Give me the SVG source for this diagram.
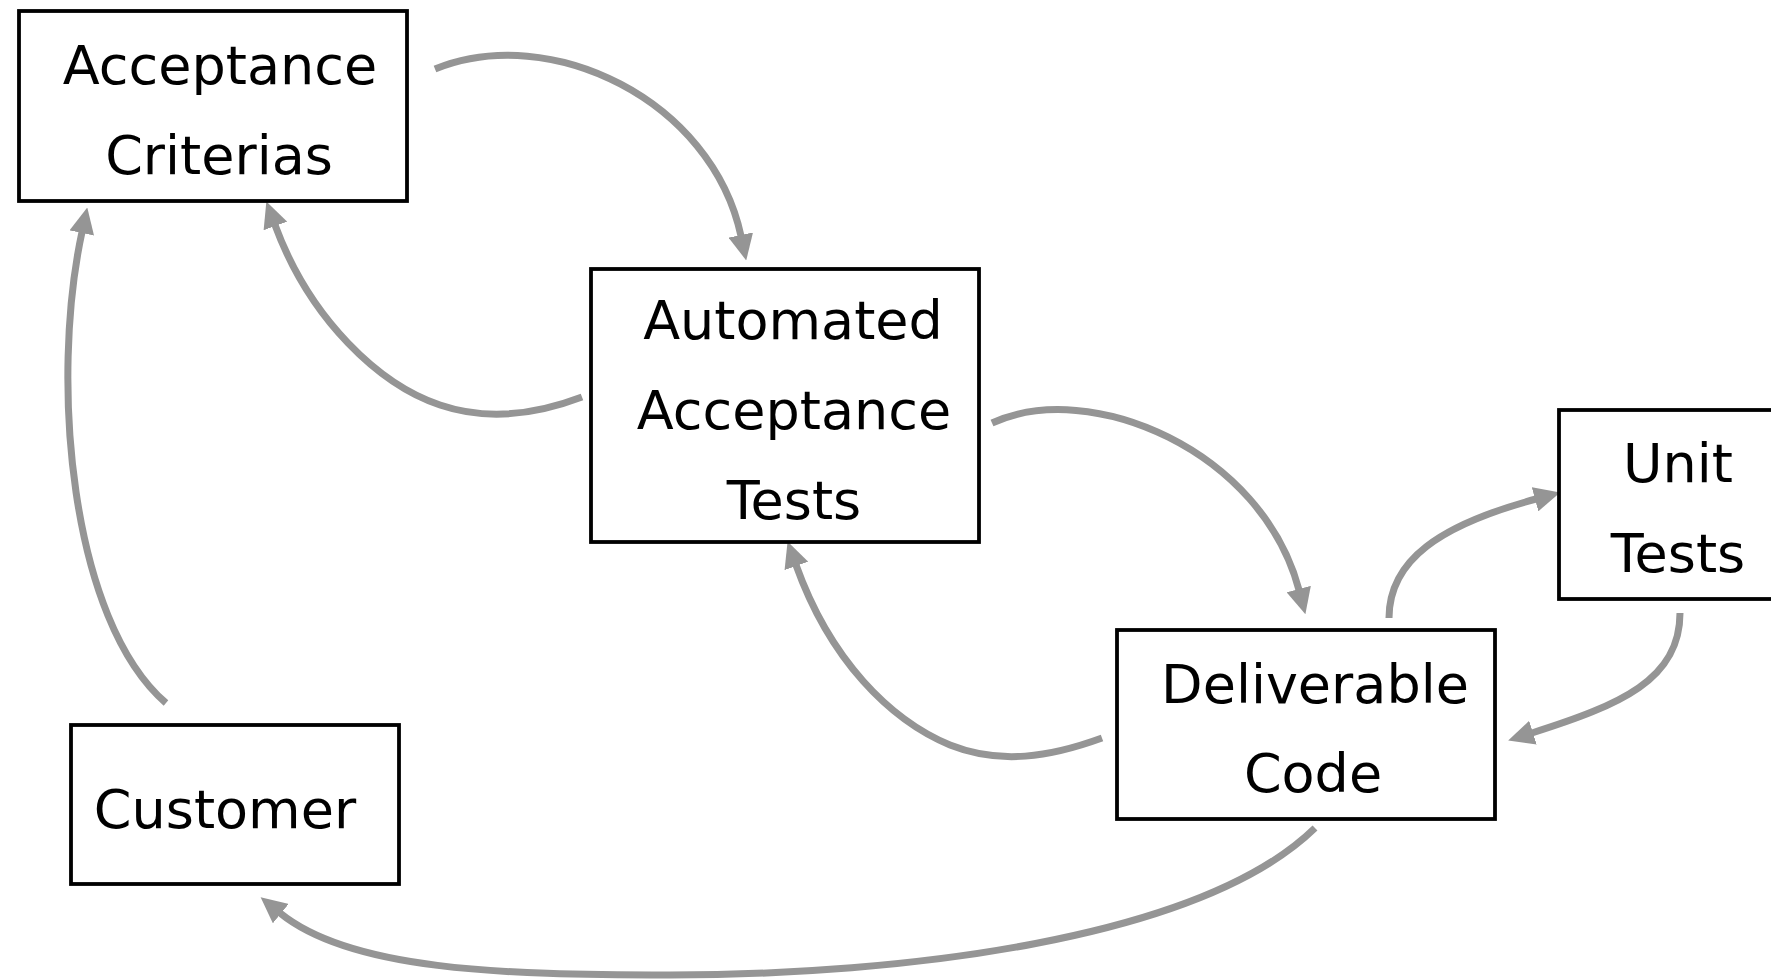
<svg xmlns="http://www.w3.org/2000/svg" width="1771" height="980" viewBox="0 0 1771 980">
<style>
.box{fill:#fff;stroke:#000;stroke-width:3.8}
.lbl{font-family:"DejaVu Sans",sans-serif;font-size:54px;fill:#000;text-anchor:middle}
.con{fill:none;stroke:#959595;stroke-width:7}
</style>
<defs>
<marker id="ah" markerUnits="userSpaceOnUse" markerWidth="26" markerHeight="25" refX="1" refY="12.5" orient="auto" viewBox="0 0 26 25">
<path d="M0,0 L26,12.5 L0,25 z" fill="#959595"/>
</marker>
</defs>
<rect width="1771" height="980" fill="#fff"/>
<g id="connectors">
<path class="con" marker-end="url(#ah)" d="M435,69 C550,22 712,100 741,236"/>
<path class="con" marker-end="url(#ah)" d="M582,397 C540,413 490,422 440,405 C380,385 310,320 275,225"/>
<path class="con" marker-end="url(#ah)" d="M992,423 C1090,378 1262,450 1299,590"/>
<path class="con" marker-end="url(#ah)" d="M1102,738 C1050,757 1000,765 950,745 C890,720 830,660 796,565"/>
<path class="con" marker-end="url(#ah)" d="M1389,618 C1389,560 1440,525 1536,499"/>
<path class="con" marker-end="url(#ah)" d="M1680,613 C1680,680 1620,705 1532,733"/>
<path class="con" marker-end="url(#ah)" d="M1315,828 C1200,940 900,975 670,975 C500,975 350,970 280,913"/>
<path class="con" marker-end="url(#ah)" d="M166,703 C70,620 50,380 82,232"/>
</g>
<g id="acceptance-criterias">
<rect class="box" x="19" y="11" width="388" height="190"/>
<text class="lbl" x="220" y="84">Acceptance</text>
<text class="lbl" x="219" y="174">Criterias</text>
</g>
<g id="automated-acceptance-tests">
<rect class="box" x="591" y="269" width="388" height="273"/>
<text class="lbl" x="793" y="339">Automated</text>
<text class="lbl" x="794" y="429">Acceptance</text>
<text class="lbl" x="794" y="519">Tests</text>
</g>
<g id="deliverable-code">
<rect class="box" x="1117" y="630" width="378" height="189"/>
<text class="lbl" x="1315" y="703">Deliverable</text>
<text class="lbl" x="1313" y="792">Code</text>
</g>
<g id="unit-tests">
<rect class="box" x="1559" y="410" width="230" height="189"/>
<text class="lbl" x="1678" y="482">Unit</text>
<text class="lbl" x="1678" y="572">Tests</text>
</g>
<g id="customer">
<rect class="box" x="71" y="725" width="328" height="159"/>
<text class="lbl" x="225" y="828">Customer</text>
</g>
</svg>
